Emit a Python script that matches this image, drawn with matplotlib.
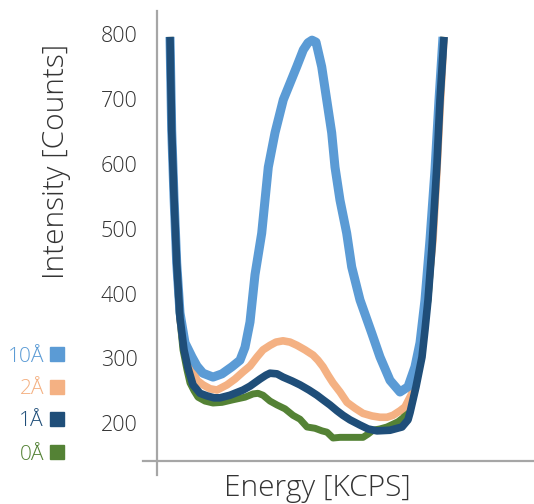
import matplotlib
matplotlib.use("Agg")
import matplotlib.pyplot as plt
from matplotlib.patches import Rectangle

# ---- data (energy in arbitrary channel units, intensity in counts) ----
x_10A = [13, 14.7, 17, 19.7, 23, 28, 35, 40, 46, 56, 65, 75, 83, 88, 93, 98, 104.7, 111.3, 118,
         126.3, 139.7, 146.3, 151, 155, 159, 164.7, 169.7, 174.7, 178, 183, 189.7, 194.7, 203,
         214.7, 223, 233, 243, 251, 258, 263, 268, 273, 278, 282, 286]
y_10A = [796, 652, 549, 447, 370, 324, 302, 288, 277, 271, 276, 287, 297, 317, 356, 429, 493, 595, 648,
         699, 750, 776, 787, 791, 788, 750, 699, 648, 595, 544, 493, 441, 390,
         339, 302, 266, 248, 256, 287, 324, 390, 483, 591, 699, 796]

x_2A = [13, 14.7, 17, 19.7, 23, 27, 33, 40, 46, 53, 60, 70, 78, 86, 93, 100, 106, 113, 119, 126,
        133, 140, 148, 156, 161, 166, 171, 176, 183, 190, 198, 206, 215, 223, 230, 236, 243,
        248, 255, 260, 265, 269, 272, 276, 280, 283, 287]
y_2A = [796, 652, 549, 447, 362, 320, 293, 266, 259, 253, 251, 259, 268, 279, 288, 302, 313, 320, 325, 327,
        325, 320, 313, 305, 297, 287, 274, 262, 248, 232, 223, 215, 211, 209, 209, 212, 219,
        225, 246, 282, 324, 375, 421, 483, 591, 683, 796]

x_1A = [13, 14.7, 17, 19.7, 23, 27, 31, 36, 43, 50, 57, 63, 73, 86, 93, 103, 109, 113, 120, 126,
        135, 143, 152, 160, 166, 173, 180, 186, 193, 203, 211, 220, 233, 245, 251, 253, 259,
        265, 268, 271, 275, 280, 283, 287]
y_1A = [796, 652, 549, 447, 362, 313, 285, 259, 246, 242, 239, 239, 243, 251, 257, 268, 274, 277, 276, 271,
        265, 259, 251, 243, 236, 228, 219, 212, 205, 197, 191, 188, 189, 194, 205, 216, 256,
        302, 344, 390, 472, 601, 699, 796]

x_0A = [13, 14.7, 17, 19.7, 22, 26, 30, 33, 37, 41, 48, 56, 65, 76, 88, 96, 101, 106, 113, 120,
        128, 136, 143, 150, 158, 165, 170, 176, 183, 190, 198, 206, 211, 216, 223, 230, 241,
        246, 250, 256, 263, 268, 271, 275, 280, 283, 287]
y_0A = [796, 652, 549, 447, 375, 313, 282, 262, 250, 240, 234, 231, 232, 236, 240, 245, 246, 243, 234, 228,
        222, 212, 206, 194, 192, 188, 186, 177, 178, 178, 178, 178, 183, 189, 191, 194, 202,
        208, 217, 251, 302, 359, 390, 472, 601, 699, 796]

y_ticks = [200, 300, 400, 500, 600, 700, 800]
legend_labels = ["10Å", "2Å", "1Å", "0Å"]
colors = {"10Å": "#5B9BD5", "2Å": "#F4B183", "1Å": "#1F4E79", "0Å": "#548235"}

# ---- figure ----
W, H = 534, 504
fig = plt.figure(figsize=(W / 100, H / 100), dpi=100)
ax = fig.add_axes([157 / W, 1 - 461 / H, 1 - 157 / W, (461 - 11) / H])
ax.set_xlim(0, 377)
ax.set_ylim(141.5, 836)

font = "Open Sans"
fw = "light"
tc = "#333333"

series = [("0Å", x_0A, y_0A, 5.0), ("2Å", x_2A, y_2A, 5.5),
          ("10Å", x_10A, y_10A, 6.5), ("1Å", x_1A, y_1A, 5.5)]
for name, xs, ys, lw in series:
    ax.plot(xs, ys, color=colors[name], lw=lw, solid_capstyle="butt",
            solid_joinstyle="round", clip_on=False)

for s in ax.spines.values():
    s.set_visible(False)
gc = "#A6A6A6"
ax.plot([0, 0], [-14 / 450, 1], transform=ax.transAxes, color=gc, lw=1.6, clip_on=False)
ax.plot([-14 / 377, 1], [0, 0], transform=ax.transAxes, color=gc, lw=1.6, clip_on=False)

ax.set_xticks([])
ax.set_yticks(y_ticks)
ax.set_yticklabels([str(v) for v in y_ticks], fontsize=15.5, color=tc, family=font, weight=fw)
ax.tick_params(axis="y", length=0, pad=14)

fig.text(56 / W, 1 - 161 / H, "Intensity [Counts]", rotation=90, ha="center", va="center",
         fontsize=21.5, color=tc, family=font, weight=fw)
fig.text(317.5 / W, 1 - 496 / H, "Energy [KCPS]", ha="center", va="baseline",
         fontsize=21.5, color=tc, family=font, weight=fw)

rows = [354, 387, 419, 452]
for lab, py in zip(legend_labels, rows):
    fig.text(44 / W, 1 - py / H, lab, ha="right", va="center_baseline", fontsize=15,
             color=colors[lab], family=font, weight=fw)
    fig.patches.append(Rectangle((50 / W, 1 - (py + 7) / H), 14 / W, 14 / H,
                                 transform=fig.transFigure, color=colors[lab]))

fig.savefig("out.png", dpi=100)
